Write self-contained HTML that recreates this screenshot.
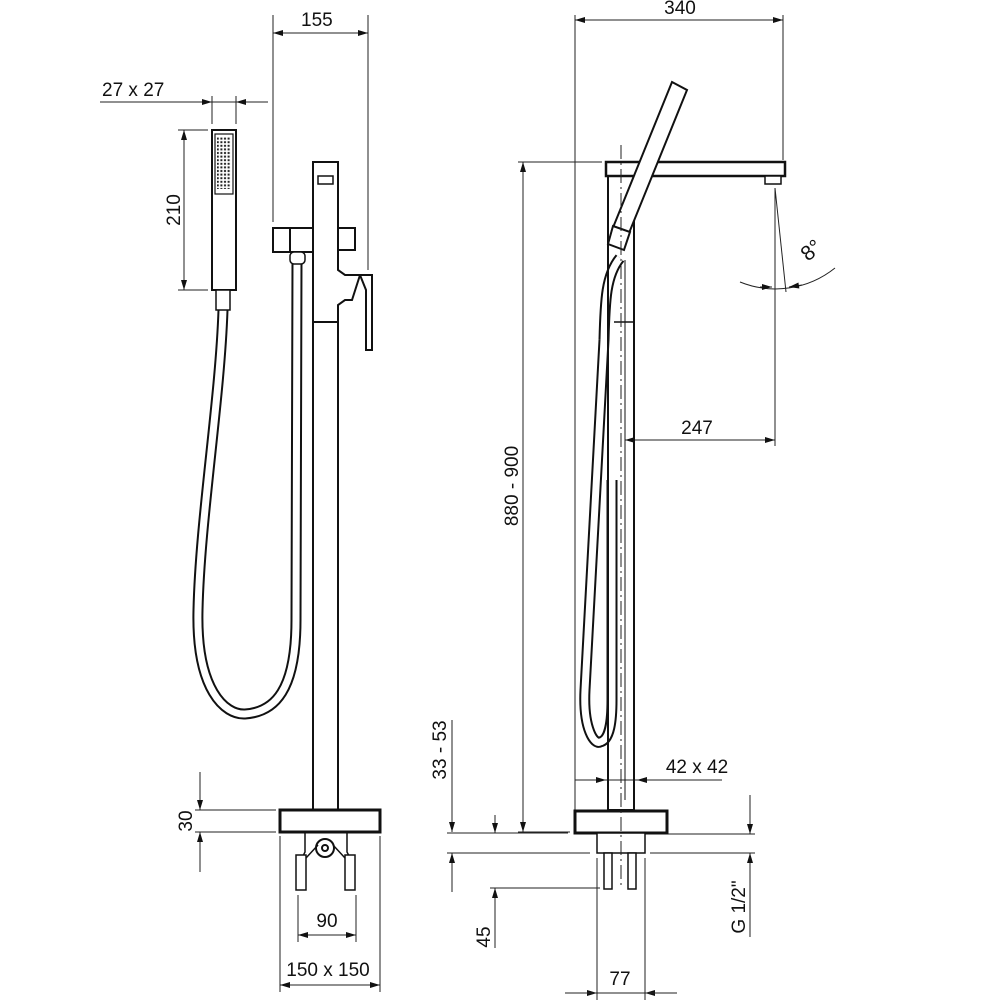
<!DOCTYPE html>
<html><head><meta charset="utf-8"><style>
html,body{margin:0;padding:0;background:#fff}
svg{display:block}
text{font-family:"Liberation Sans Narrow","Liberation Sans",sans-serif;font-size:19px;fill:#111}
</style></head><body>
<svg width="1000" height="1000" viewBox="0 0 1000 1000" xmlns="http://www.w3.org/2000/svg">
<defs>
<marker id="a" viewBox="0 0 10 6" refX="10" refY="3" markerWidth="14" markerHeight="6" markerUnits="userSpaceOnUse" orient="auto-start-reverse"><path d="M0,0 L10,3 L0,6z" fill="#111"/></marker>
<pattern id="dots" width="3.6" height="3.6" patternUnits="userSpaceOnUse"><rect x="0.8" y="0.8" width="2" height="2" fill="#222"/></pattern>
</defs>
<g stroke="#222" stroke-width="1" fill="none">
<line x1="100" y1="102" x2="268" y2="102"/>
<line x1="197" y1="102" x2="212" y2="102" marker-end="url(#a)"/>
<line x1="252" y1="102" x2="236" y2="102" marker-end="url(#a)"/>
<line x1="212" y1="96" x2="212" y2="124"/><line x1="236" y1="96" x2="236" y2="124"/>
<line x1="184" y1="130" x2="184" y2="290" marker-start="url(#a)" marker-end="url(#a)"/>
<line x1="178" y1="130" x2="208" y2="130"/><line x1="178" y1="290" x2="208" y2="290"/>
<line x1="273" y1="33" x2="368" y2="33" marker-start="url(#a)" marker-end="url(#a)"/>
<line x1="273" y1="15" x2="273" y2="222"/><line x1="368" y1="15" x2="368" y2="270"/>
<line x1="200" y1="772" x2="200" y2="810" marker-end="url(#a)"/>
<line x1="200" y1="872" x2="200" y2="832" marker-end="url(#a)"/>
<line x1="195" y1="810" x2="276" y2="810"/><line x1="195" y1="832" x2="276" y2="832"/>
<line x1="298" y1="895" x2="298" y2="942"/><line x1="356" y1="895" x2="356" y2="942"/>
<line x1="298" y1="935" x2="356" y2="935" marker-start="url(#a)" marker-end="url(#a)"/>
<line x1="280" y1="836" x2="280" y2="992"/><line x1="380" y1="836" x2="380" y2="992"/>
<line x1="280" y1="985" x2="380" y2="985" marker-start="url(#a)" marker-end="url(#a)"/>
</g>
<g stroke="#111" stroke-width="2" fill="#fff">
<path d="M223,310 C220,400 200,520 198,610 C196,690 225,715 245,714 C275,712 296,690 296,620 L297,258" stroke-width="11" fill="none"/>
<path d="M223,310 C220,400 200,520 198,610 C196,690 225,715 245,714 C275,712 296,690 296,620 L297,258" stroke="#fff" stroke-width="7" fill="none"/>
<rect x="212" y="130" width="24" height="160"/>
<rect x="215" y="134" width="18" height="60" stroke-width="1.2"/>
<rect x="217" y="137" width="14" height="52" fill="url(#dots)" stroke="none"/>
<rect x="216" y="290" width="14" height="20" stroke-width="1.5"/>
<rect x="313" y="322" width="25" height="488"/>
<path d="M313,162 H338 V270 L345,275 H360 L352,300 H345 L338,305 V322 H313 Z"/>
<rect x="318" y="176" width="15" height="8" stroke-width="1.5"/>
<rect x="273" y="228" width="40" height="24"/><line x1="290" y1="228" x2="290" y2="252"/>
<rect x="338" y="228" width="17" height="22"/>
<rect x="290" y="252" width="15" height="12" rx="4" stroke-width="1.5"/>
<path d="M360,275 H372 V350 H366 V290 Z" fill="#fff"/>
<rect x="280" y="810" width="100" height="22" stroke-width="3"/>
<circle cx="325" cy="848" r="9"/><circle cx="325" cy="848" r="3"/>
<path d="M305,833 V852 L300,862 M347,833 V852 L352,862" fill="none" stroke-width="1.5"/>
<rect x="296" y="855" width="10" height="35" stroke-width="1.5"/>
<rect x="345" y="855" width="10" height="35" stroke-width="1.5"/>
<path d="M306,858 L318,845 M345,858 L333,845" fill="none" stroke-width="1.5"/>
</g>
<g stroke="#222" stroke-width="1" fill="none">
<line x1="575" y1="15" x2="575" y2="830"/><line x1="783" y1="15" x2="783" y2="160"/>
<line x1="575" y1="20" x2="783" y2="20" marker-start="url(#a)" marker-end="url(#a)"/>
<line x1="523" y1="162" x2="523" y2="832" marker-start="url(#a)" marker-end="url(#a)"/>
<line x1="518" y1="162" x2="602" y2="162"/><line x1="518" y1="832" x2="570" y2="832"/>
<line x1="775" y1="188" x2="775" y2="446"/>
<line x1="775" y1="188" x2="786" y2="292"/>
<path d="M740,282 A95,95 0 0 0 835,268" />
<line x1="760" y1="287" x2="772" y2="287" marker-end="url(#a)"/>
<line x1="802" y1="285" x2="789" y2="287" marker-end="url(#a)"/>
<line x1="625" y1="440" x2="775" y2="440" marker-start="url(#a)" marker-end="url(#a)"/>
<line x1="575" y1="780" x2="722" y2="780"/>
<line x1="590" y1="780" x2="606" y2="780" marker-end="url(#a)"/>
<line x1="653" y1="780" x2="637" y2="780" marker-end="url(#a)"/>
<line x1="452" y1="720" x2="452" y2="832" marker-end="url(#a)"/>
<line x1="452" y1="892" x2="452" y2="853" marker-end="url(#a)"/>
<line x1="447" y1="833" x2="568" y2="833"/><line x1="447" y1="853" x2="590" y2="853"/>
<line x1="495" y1="815" x2="495" y2="833" marker-end="url(#a)"/>
<line x1="495" y1="948" x2="495" y2="888" marker-end="url(#a)"/>
<line x1="490" y1="888" x2="600" y2="888"/>
<line x1="750" y1="795" x2="750" y2="834" marker-end="url(#a)"/>
<line x1="750" y1="937" x2="750" y2="853" marker-end="url(#a)"/>
<line x1="660" y1="834" x2="755" y2="834"/><line x1="650" y1="853" x2="755" y2="853"/>
<line x1="597" y1="858" x2="597" y2="1000"/><line x1="645" y1="858" x2="645" y2="1000"/>
<line x1="565" y1="993" x2="597" y2="993" marker-end="url(#a)"/>
<line x1="677" y1="993" x2="645" y2="993" marker-end="url(#a)"/>
<line x1="565" y1="993" x2="677" y2="993"/>
</g>
<g stroke="#111" stroke-width="2" fill="#fff">
<path d="M620,258 C606,275 605,300 604,340 L585,690 C583,730 595,745 600,742 C610,740 612,720 612,700 L612,480" stroke-width="11" fill="none"/>
<path d="M620,258 C606,275 605,300 604,340 L585,690 C583,730 595,745 600,742 C610,740 612,720 612,700 L612,480" stroke="#fff" stroke-width="7" fill="none"/>
<rect x="608" y="176" width="26" height="634" fill="none"/>
<line x1="614" y1="322" x2="634" y2="322" stroke-width="1.5"/>
<line x1="625" y1="260" x2="625" y2="800" stroke-width="1"/>
<rect x="606" y="162" width="179" height="14" stroke-width="2.5"/>
<rect x="765" y="176" width="16" height="8" stroke-width="1.5"/>
<path d="M672,82 L687,90 L627,238 L612,230 Z"/>
<path d="M613,226 L630,232 L624,250 L608,244 Z"/>
<rect x="575" y="811" width="92" height="22" stroke-width="3"/>
<rect x="597" y="833" width="48" height="20" stroke-width="1.5"/>
<rect x="604" y="853" width="8" height="36" stroke-width="1.5"/>
<rect x="628" y="853" width="8" height="36" stroke-width="1.5"/>
</g>
<line x1="621" y1="145" x2="621" y2="885" stroke="#222" stroke-width="1" stroke-dasharray="14,4,2,4"/>
<text x="102" y="96">27 x 27</text>
<text x="301" y="26">155</text>
<text transform="translate(180,210) rotate(-90)" text-anchor="middle">210</text>
<text transform="translate(192,821) rotate(-90)" text-anchor="middle">30</text>
<text x="327" y="927" text-anchor="middle">90</text>
<text x="328" y="976" text-anchor="middle">150 x 150</text>
<text x="680" y="14" text-anchor="middle">340</text>
<text transform="translate(518,486) rotate(-90)" text-anchor="middle">880 - 900</text>
<text transform="translate(808,262) rotate(-40)" style="font-size:21px">8°</text>
<text x="697" y="434" text-anchor="middle">247</text>
<text x="697" y="773" text-anchor="middle">42 x 42</text>
<text transform="translate(446,750) rotate(-90)" text-anchor="middle">33 - 53</text>
<text transform="translate(490,937) rotate(-90)" text-anchor="middle">45</text>
<text transform="translate(745,907) rotate(-90)" text-anchor="middle">G 1/2"</text>
<text x="620" y="985" text-anchor="middle">77</text>
</svg>
</body></html>
